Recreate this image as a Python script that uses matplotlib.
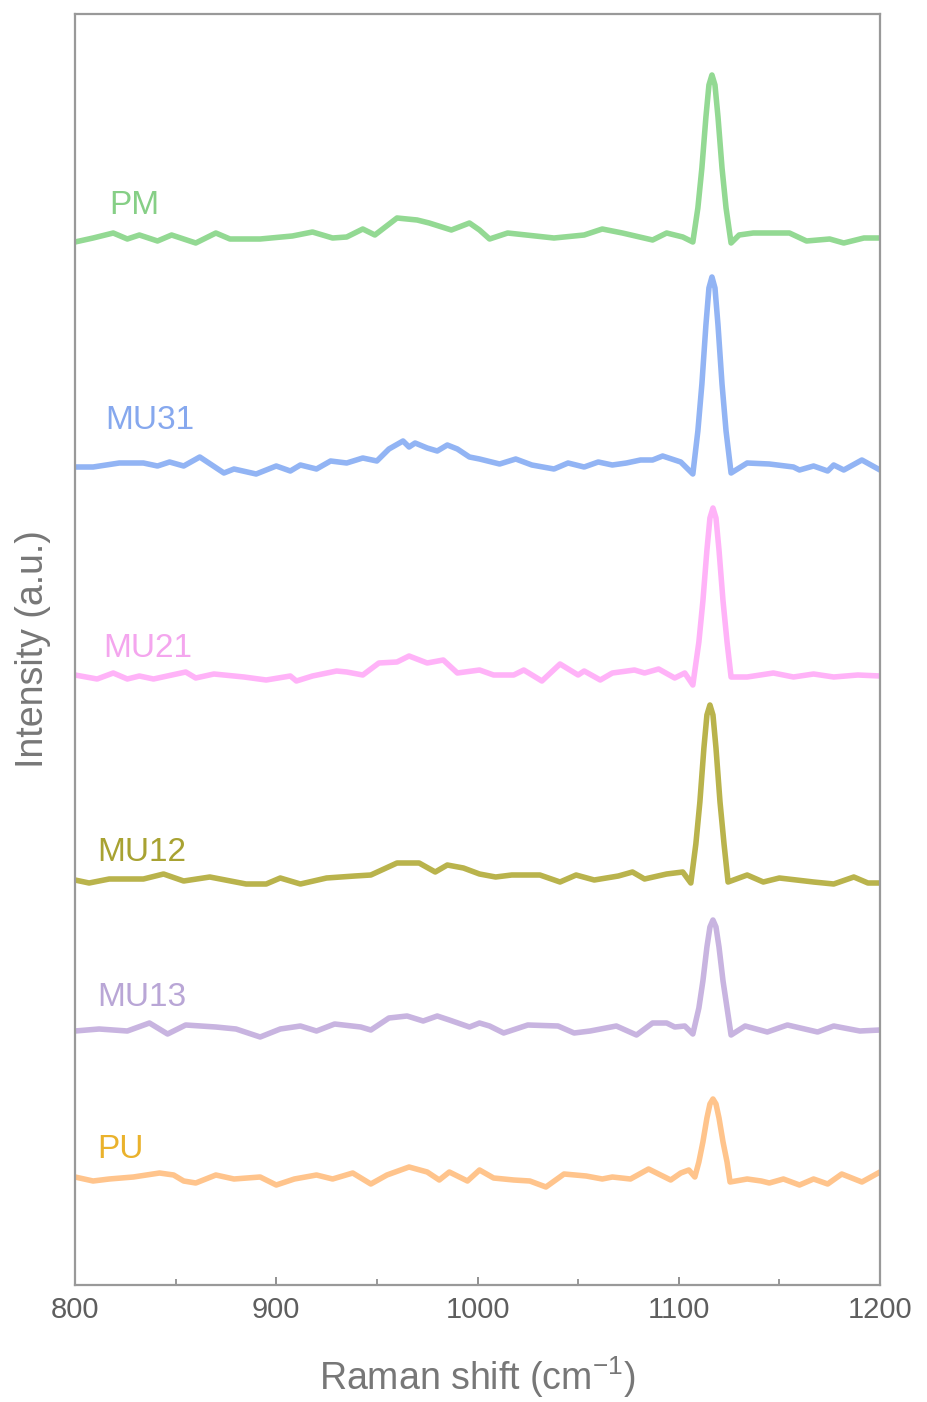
import numpy as np
import matplotlib
matplotlib.use("Agg")
import matplotlib.pyplot as plt

plt.rcParams['font.family'] = ['Liberation Sans', 'DejaVu Sans']
plt.rcParams['mathtext.default'] = 'regular'

# ---- data (Raman shift, stacked intensity a.u.) ----
pm_x = [800, 809, 819, 826, 832, 841, 848, 860, 870, 877, 892, 908, 918, 928, 935, 943, 949, 960, 970, 976,
        987, 996, 1001, 1006, 1015, 1038, 1053, 1062, 1072, 1087, 1094, 1102, 1107,
        1109.5, 1111.5, 1113.5, 1115, 1116.5, 1118, 1119.5, 1121.5, 1123.5, 1126,
        1130, 1137, 1155, 1163.5, 1175, 1182, 1192, 1200]
pm_y = [1043, 1047, 1052, 1046, 1050, 1044, 1050, 1042, 1052, 1046, 1046, 1049, 1053, 1047, 1048, 1056, 1050, 1067, 1065, 1062,
        1055, 1062, 1055, 1046, 1052, 1047, 1050, 1056, 1052, 1045, 1052, 1048, 1043,
        1077, 1117, 1168, 1200, 1210, 1200, 1168, 1117, 1077, 1042,
        1050, 1052, 1052, 1044, 1046, 1042, 1047, 1047]

mu31_x = [800, 809, 822, 834, 841, 847, 854, 862, 874, 879, 890, 900, 907, 912, 920, 927, 935, 943, 950, 956,
          963, 966, 969, 975, 980, 985, 990, 996, 1001, 1011, 1019, 1027, 1038, 1045, 1053, 1060, 1067, 1074,
          1081, 1087, 1092, 1101, 1107,
          1109.5, 1111.5, 1113.5, 1115, 1116.5, 1118, 1119.5, 1121.5, 1123.5, 1126,
          1134, 1145, 1157, 1160, 1167, 1174, 1177, 1182, 1191, 1200]
mu31_y = [818, 818, 822, 822, 819, 823, 819, 828, 812, 816, 811, 819, 814, 820, 816, 824, 822, 827, 824, 836,
          844, 838, 842, 837, 834, 840, 836, 828, 826, 821, 826, 820, 816, 822, 818, 823, 820, 822,
          825, 825, 829, 823, 811,
          854, 901, 960, 997, 1008, 997, 960, 901, 854, 812,
          822, 821, 818, 815, 819, 814, 820, 815, 825, 815]

mu21_x = [800, 811, 819, 826, 832, 839, 855, 860, 869, 884, 895, 907, 910, 918, 930, 935, 943, 951, 960, 966,
          975, 983, 990, 1001, 1008, 1018, 1023, 1032, 1041, 1050, 1053, 1061, 1067, 1078, 1083, 1090, 1098,
          1103, 1107,
          1110, 1112, 1114, 1115.5, 1117, 1118.5, 1120, 1122, 1124, 1126,
          1134, 1147, 1157, 1167, 1177, 1189, 1200]
mu21_y = [610, 606, 612, 606, 609, 606, 613, 607, 611, 608, 605, 609, 604, 609, 614, 613, 610, 622, 623, 629,
          622, 625, 612, 615, 610, 610, 615, 604, 621, 610, 614, 605, 612, 615, 612, 616, 607,
          612, 600,
          643, 684, 735, 767, 777, 767, 735, 684, 643, 608,
          608, 612, 608, 611, 608, 610, 609]

mu12_x = [800, 807, 817, 834, 844, 854, 867, 885, 895, 902, 912, 925, 939, 947, 960, 971, 979, 985, 993, 1001,
          1009, 1017, 1031, 1041, 1049, 1058, 1070, 1077, 1083, 1094, 1102, 1106,
          1108.5, 1110.5, 1112.5, 1114, 1115.5, 1117, 1118.5, 1120.5, 1122.5, 1124.5,
          1134, 1142, 1150, 1167, 1177, 1187, 1194, 1200]
mu12_y = [405, 402, 406, 406, 411, 404, 408, 401, 401, 407, 401, 407, 409, 410, 422, 422, 413, 420, 417, 411,
          408, 410, 410, 403, 410, 405, 409, 413, 406, 411, 413, 402,
          441, 483, 537, 570, 580, 570, 537, 483, 441, 403,
          410, 403, 407, 403, 401, 408, 402, 402]

mu13_x = [800, 812, 826, 837, 846, 855, 870, 880, 892, 902, 912, 920, 929, 942, 947, 956, 965, 973, 980, 986,
          996, 1001, 1006, 1013, 1025, 1040, 1048, 1056, 1069, 1079, 1087, 1094, 1098, 1103, 1107,
          1110, 1112, 1114, 1115.5, 1117, 1118.5, 1120, 1122, 1124, 1126,
          1133, 1144, 1154, 1169, 1177, 1190, 1200]
mu13_y = [254, 256, 254, 262, 251, 260, 258, 256, 248, 256, 259, 254, 261, 258, 255, 267, 269, 264, 269, 265,
          258, 262, 259, 252, 260, 259, 252, 254, 259, 250, 262, 262, 258, 259, 251,
          277, 304, 338, 358, 365, 358, 338, 304, 277, 250,
          259, 253, 260, 253, 259, 254, 255]

pu_x = [800, 809, 817, 829, 842, 849, 854, 860, 870, 879, 892, 900, 909, 920, 928, 938, 947, 955, 966, 975,
        981, 986, 995, 1001, 1008, 1018, 1026, 1034, 1043, 1054, 1062, 1067, 1076, 1085, 1096, 1101, 1105, 1108,
        1110, 1112, 1114, 1115.5, 1117, 1118.5, 1120, 1122, 1124, 1125.5,
        1134, 1141, 1145, 1152, 1160, 1167, 1174, 1181, 1191, 1200]
pu_y = [108, 104, 106, 108, 112, 110, 104, 102, 110, 106, 108, 100, 106, 110, 106, 112, 101, 110, 118, 113,
        105, 113, 104, 115, 107, 105, 104, 98, 111, 109, 106, 108, 106, 116, 105, 112, 115, 108,
        123, 143, 167, 181, 186, 181, 167, 143, 123, 103,
        106, 104, 102, 106, 100, 106, 101, 111, 103, 113]

names = ['PM', 'MU31', 'MU21', 'MU12', 'MU13', 'PU']
line_colors = ['#93d993', '#92b4f4', '#ffb3f8', '#b9b34c', '#c8b4e0', '#ffc48c']
label_colors = ['#86cf86', '#86a8ee', '#f4a6ee', '#a8a232', '#b9a6d6', '#eab22c']
label_pos = [(817, 1080), (815, 865), (814, 637), (811, 433), (811, 288), (811, 135)]

xs = [pm_x, mu31_x, mu21_x, mu12_x, mu13_x, pu_x]
ys = [pm_y, mu31_y, mu21_y, mu12_y, mu13_y, pu_y]

fig = plt.figure(figsize=(9.27, 14.02), dpi=100)
ax = fig.add_axes([75/927, 1 - 1285/1402, 805/927, 1271/1402])

for x, y, c in zip(xs, ys, line_colors):
    ax.plot(x, y, color=c, lw=4.0, solid_joinstyle='round', solid_capstyle='round')

for n, (lx, ly), c in zip(names, label_pos, label_colors):
    ax.text(lx, ly, n, color=c, fontsize=24, ha='left', va='center')

ax.set_xlim(800, 1200)
ax.set_ylim(0, 1271)
ax.set_xticks([800, 900, 1000, 1100, 1200])
ax.set_xticks([850, 950, 1050, 1150], minor=True)
ax.set_yticks([])
ax.tick_params(axis='x', which='major', direction='in', length=6, width=1.3, color='#888888',
               labelsize=21, labelcolor='#5e5e5e', pad=8)
ax.tick_params(axis='x', which='minor', direction='in', length=4, width=1.2, color='#888888')
for s in ax.spines.values():
    s.set_color('#999999')
    s.set_linewidth(1.6)

ax.set_xlabel('Raman shift (cm$^{-1}$)', fontsize=27, color='#777777', labelpad=22)
ax.set_ylabel('Intensity (a.u.)', fontsize=27, color='#777777', labelpad=17)

fig.savefig('out.png', dpi=100)
